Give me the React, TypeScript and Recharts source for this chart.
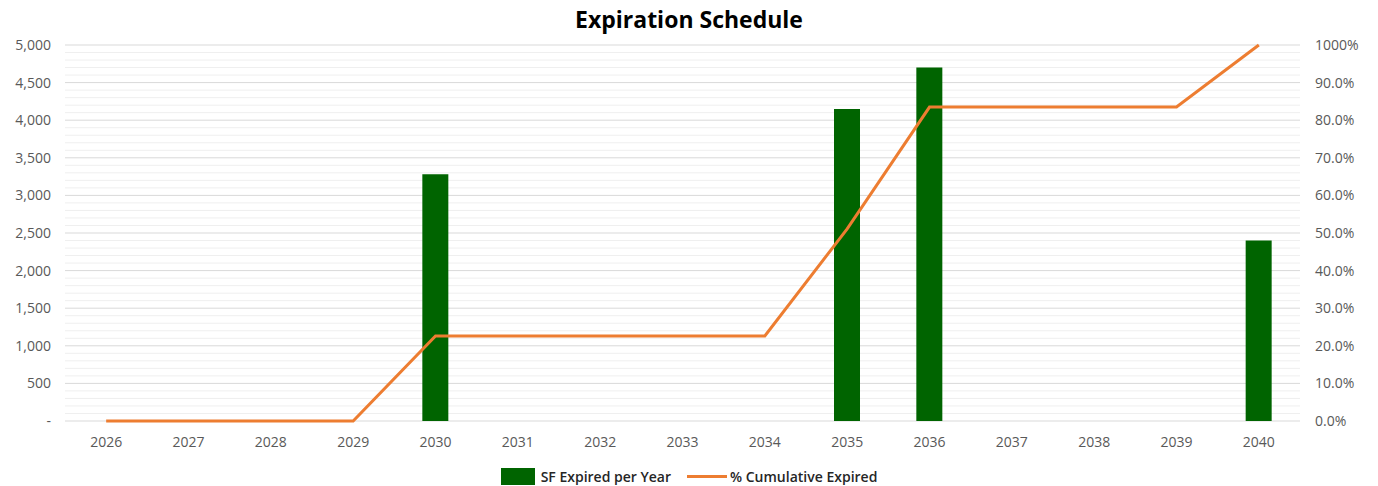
import React from 'react';
import { ComposedChart, Bar, Line, XAxis, YAxis, CartesianGrid, Legend } from 'recharts';

const years = ['2026','2027','2028','2029','2030','2031','2032','2033','2034','2035','2036','2037','2038','2039','2040'];
const sfExpired = [0, 0, 0, 0, 3280, 0, 0, 0, 0, 4150, 4700, 0, 0, 0, 2400];
const cumulativePct = [0, 0, 0, 0, 22.6, 22.6, 22.6, 22.6, 22.6, 51.1, 83.5, 83.5, 83.5, 83.5, 100];
const leftTicks = [0, 500, 1000, 1500, 2000, 2500, 3000, 3500, 4000, 4500, 5000];
const leftTickLabels = ['-', '500', '1,000', '1,500', '2,000', '2,500', '3,000', '3,500', '4,000', '4,500', '5,000'];
const rightTicks = [0, 10, 20, 30, 40, 50, 60, 70, 80, 90, 100];
const rightTickLabels = ['0.0%', '10.0%', '20.0%', '30.0%', '40.0%', '50.0%', '60.0%', '70.0%', '80.0%', '90.0%', '1000%'];
const boundaryTicks = [0, 1, 2, 3, 4, 5, 6, 7, 8, 9, 10, 11, 12, 13, 14, 15];
const leftMax = 5000;
const minorStep = 100;

const data = years.map((y, i) => ({ year: y, sf: sfExpired[i], cum: cumulativePct[i] }));

const FONT = '"Open Sans", sans-serif';
const GREEN = '#006400';
const ORANGE = '#ED7D31';

const renderLegend = () => (
  <div style={{ display: 'flex', justifyContent: 'center', alignItems: 'center', paddingTop: 8, fontFamily: FONT, fontSize: 14, fontWeight: 600, color: '#262626' }}>
    <span style={{ display: 'inline-block', width: 34, height: 17, background: GREEN, marginRight: 6 }} />
    <span style={{ marginRight: 16 }}>SF Expired per Year</span>
    <span style={{ display: 'inline-block', width: 40, height: 3, background: ORANGE, marginRight: 3 }} />
    <span>% Cumulative Expired</span>
  </div>
);

const minorGen = (props: any) => {
  const yAxis = props && props.yAxis;
  const offset = props && props.offset;
  const scale = yAxis && yAxis.scale;
  const out: number[] = [];
  for (let v = 0; v <= leftMax; v += minorStep) {
    if (v % 500 === 0) continue;
    if (typeof scale === 'function') {
      out.push(scale(v));
    } else if (offset) {
      out.push(offset.top + offset.height * (1 - v / leftMax));
    }
  }
  return out;
};

export default function App() {
  return (
    <div style={{ position: 'absolute', left: 0, top: 0, width: 1378, height: 486, background: '#fff' }}>
      <div style={{ position: 'absolute', left: 0, top: 3, width: 1378, textAlign: 'center', fontFamily: FONT, fontWeight: 700, fontSize: 23, color: '#000' }}>
        Expiration Schedule
      </div>
      <ComposedChart width={1378} height={486} data={data} margin={{ top: 45, right: 0, bottom: 0, left: 0 }}>
        <CartesianGrid yAxisId="left" xAxisId="cat" vertical={false} stroke="#efefef" strokeWidth={1}
          horizontalCoordinatesGenerator={minorGen} />
        <CartesianGrid yAxisId="left" xAxisId="cat" vertical={false} stroke="#d9d9d9" strokeWidth={1} />
        <XAxis xAxisId="edges" type="number" domain={[0, 15]} ticks={boundaryTicks} height={0} tick={false} tickSize={7} stroke="#d9d9d9" axisLine={{ stroke: '#d9d9d9' }} tickLine={{ stroke: '#d9d9d9' }} />
        <XAxis xAxisId="cat" dataKey="year" axisLine={false} tickLine={false} height={38} tickSize={6} tickMargin={10}
          tick={{ fill: '#595959', fontSize: 14, fontFamily: FONT }} interval={0} />
        <YAxis yAxisId="left" orientation="left" width={65} domain={[0, leftMax]} ticks={leftTicks}
          tickFormatter={(v: number) => leftTickLabels[leftTicks.indexOf(v)]}
          axisLine={false} tickLine={false} tickSize={6} tickMargin={8}
          tick={{ fill: '#595959', fontSize: 14, fontFamily: FONT }} />
        <YAxis yAxisId="right" orientation="right" width={78} domain={[0, 100]} ticks={rightTicks}
          tickFormatter={(v: number) => rightTickLabels[rightTicks.indexOf(v)]}
          axisLine={false} tickLine={false} tickSize={6} tickMargin={9}
          tick={{ fill: '#595959', fontSize: 14, fontFamily: FONT, textAnchor: 'start' }} />
        <Bar xAxisId="cat" yAxisId="left" dataKey="sf" fill={GREEN} barSize={26} isAnimationActive={false} name="SF Expired per Year" />
        <Line xAxisId="cat" yAxisId="right" dataKey="cum" stroke={ORANGE} strokeWidth={3} dot={false} activeDot={false} isAnimationActive={false} type="linear" name="% Cumulative Expired" />
        <Legend verticalAlign="bottom" height={27} content={renderLegend} />
      </ComposedChart>
    </div>
  );
}
